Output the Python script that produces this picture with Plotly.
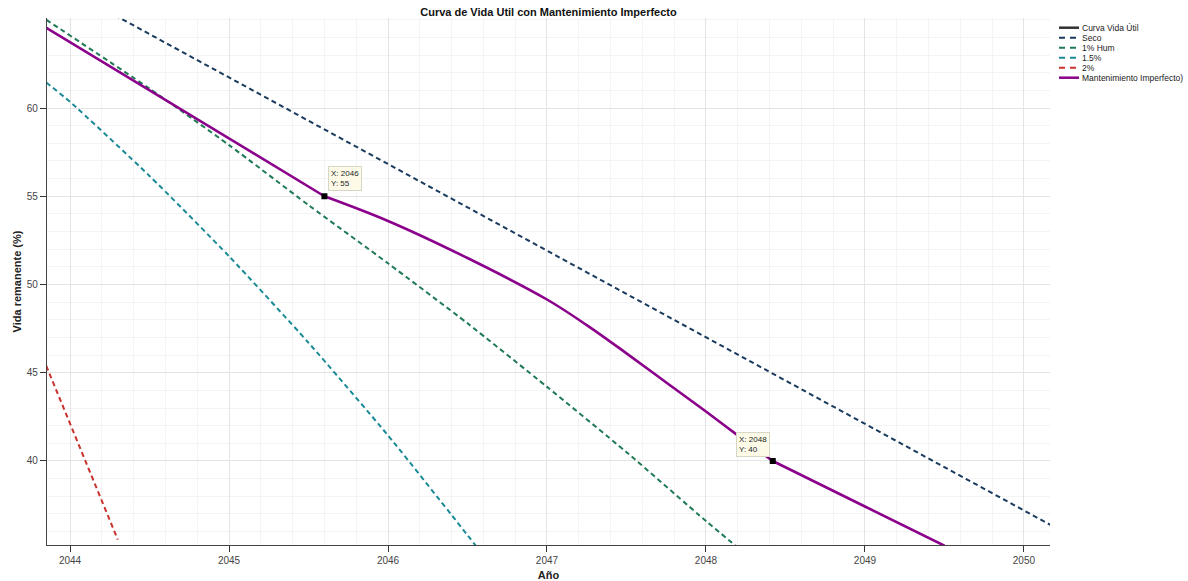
import plotly.graph_objects as go

# ---------------- data ----------------
seco_x = [2044.0, 2045.0, 2046.0, 2047.0, 2048.0, 2049.0, 2050.0, 2051.0]
seco_y = [66.64, 61.73, 56.82, 51.92, 47.01, 42.10, 37.19, 32.29]

hum1_x = [2043.85, 2044.5, 2045.0, 2045.5, 2046.0, 2046.5, 2047.0, 2047.5, 2048.0, 2048.2]
hum1_y = [65.0, 61.1, 57.9, 54.5, 51.2, 47.8, 44.2, 40.5, 36.6, 35.1]

p15_x = [2043.85, 2044.0, 2044.5, 2045.0, 2045.5, 2046.0, 2046.5, 2046.6]
p15_y = [61.45, 60.35, 56.15, 51.6, 46.7, 41.45, 35.8, 34.65]

p2_x = [2043.85, 2044.0, 2044.3]
p2_y = [45.4, 42.15, 35.55]

# Mantenimiento imperfecto: straight decline, then a smooth curved stretch, then straight again
mant1_x = [2043.85, 2045.6]
mant1_y = [64.55, 55.0]
mant2_x = [2045.6, 2046.0, 2046.5, 2047.0, 2047.25, 2047.5, 2047.75, 2048.0, 2048.2, 2048.42]
mant2_y = [55.0, 53.6, 51.5, 49.15, 47.7, 46.1, 44.45, 42.8, 41.45, 40.0]
mant3_x = [2048.42, 2049.0, 2049.5]
mant3_y = [40.0, 37.42, 35.2]

tip_x = [2045.6, 2048.42]
tip_y = [55.0, 40.0]
tip_labels = ["X: 2046<br>Y: 55", "X: 2048<br>Y: 40"]

legend_names = ["Curva Vida Útil", "Seco", "1% Hum", "1.5%", "2%", "Mantenimiento Imperfecto)"]

x_range = [2043.855, 2050.164]
y_range = [35.24, 65.10]

# ---------------- styles ----------------
C_BASE = "#333333"
C_SECO = "#1a3b5e"
C_HUM = "#1f7a55"
C_P15 = "#1b8a96"
C_P2 = "#c8312c"
C_MANT = "#8B008B"
DASH = "5px,3.5px"
FONT = "Liberation Sans, Arial, Helvetica, sans-serif"

fig = go.Figure()

fig.add_trace(go.Scatter(x=[None], y=[None], mode="lines", name=legend_names[0],
                         line=dict(color=C_BASE, width=2.5), showlegend=False))
fig.add_trace(go.Scatter(x=seco_x, y=seco_y, mode="lines", name=legend_names[1],
                         line=dict(color=C_SECO, width=2, dash=DASH), showlegend=False))
fig.add_trace(go.Scatter(x=hum1_x, y=hum1_y, mode="lines", name=legend_names[2],
                         line=dict(color=C_HUM, width=2, dash=DASH, shape="spline", smoothing=0.6),
                         showlegend=False))
fig.add_trace(go.Scatter(x=p15_x, y=p15_y, mode="lines", name=legend_names[3],
                         line=dict(color=C_P15, width=2, dash=DASH, shape="spline", smoothing=0.6),
                         showlegend=False))
fig.add_trace(go.Scatter(x=p2_x, y=p2_y, mode="lines", name=legend_names[4],
                         line=dict(color=C_P2, width=2, dash=DASH), showlegend=False))
for mx, my in [(mant1_x, mant1_y), (mant2_x, mant2_y), (mant3_x, mant3_y)]:
    fig.add_trace(go.Scatter(x=mx, y=my, mode="lines", name=legend_names[5],
                             line=dict(color=C_MANT, width=2.6, shape="spline", smoothing=1.0),
                             showlegend=False))
fig.add_trace(go.Scatter(x=tip_x, y=tip_y, mode="markers",
                         marker=dict(symbol="square", size=6, color="black"),
                         showlegend=False, hoverinfo="skip"))

annotations = []
# data tips
annotations.append(dict(x=tip_x[0], y=tip_y[0], xref="x", yref="y", text=tip_labels[0],
                        showarrow=False, xanchor="left", yanchor="bottom", xshift=4, yshift=5,
                        align="left", font=dict(size=8, color="#222", family=FONT),
                        bgcolor="#fdfbe8", bordercolor="#d6d6c6", borderwidth=1, borderpad=2))
annotations.append(dict(x=tip_x[1], y=tip_y[1], xref="x", yref="y", text=tip_labels[1],
                        showarrow=False, xanchor="right", yanchor="bottom", xshift=-3, yshift=4,
                        align="left", font=dict(size=8, color="#222", family=FONT),
                        bgcolor="#fdfbe8", bordercolor="#d6d6c6", borderwidth=1, borderpad=2))

# manual legend (compact)
W, H = 1188, 581
L, R, T, B = 47, 138, 18, 36
pw, ph = W - L - R, H - T - B

def px2paper(px, py):
    return (px - L) / pw, (H - B - py) / ph

shapes = []
leg_colors = [C_BASE, C_SECO, C_HUM, C_P15, C_P2, C_MANT]
leg_dash = ["solid", "6px,5px", "6px,5px", "6px,5px", "6px,5px", "solid"]
leg_width = [2.5, 2, 2, 2, 2, 2.5]
for i, name in enumerate(legend_names):
    ry = 27.7 + i * 10.0
    x0, yy = px2paper(1059, ry)
    x1, _ = px2paper(1079, ry)
    shapes.append(dict(type="line", xref="paper", yref="paper", x0=x0, x1=x1, y0=yy, y1=yy,
                       line=dict(color=leg_colors[i], width=leg_width[i], dash=leg_dash[i])))
    tx, _ = px2paper(1080, ry)
    annotations.append(dict(x=tx, y=yy, xref="paper", yref="paper", text=name, showarrow=False,
                            xanchor="left", yanchor="middle",
                            font=dict(size=8.5, color="#222", family=FONT)))

fig.update_layout(
    width=W, height=H,
    margin=dict(l=L, r=R, t=T, b=B, autoexpand=False),
    paper_bgcolor="white", plot_bgcolor="white",
    font=dict(family=FONT, color="#333"),
    title=dict(text="<b>Curva de Vida Util con Mantenimiento Imperfecto</b>",
               x=0.5, xref="paper", xanchor="center",
               y=1 - 12 / H, yref="container", yanchor="middle",
               font=dict(size=11, color="#111", family=FONT)),
    showlegend=False,
    annotations=annotations,
    shapes=shapes,
)

fig.update_xaxes(
    range=x_range, autorange=False,
    tickmode="array", tickvals=[2044, 2045, 2046, 2047, 2048, 2049, 2050],
    ticktext=["2044", "2045", "2046", "2047", "2048", "2049", "2050"],
    ticks="outside", ticklen=6, tickwidth=1.2, tickcolor="#333",
    tickfont=dict(size=10, color="#444", family=FONT),
    showline=True, linecolor="#444", linewidth=1.3, mirror=False,
    showgrid=True, gridcolor="#e4e4e4", gridwidth=1,
    minor=dict(dtick=0.2, showgrid=True, gridcolor="#f4f4f4", gridwidth=1, ticks=""),
    zeroline=False,
    title=dict(text="<b>Año</b>", font=dict(size=11, color="#222", family=FONT), standoff=8),
)
fig.update_yaxes(
    range=y_range, autorange=False,
    tickmode="array", tickvals=[40, 45, 50, 55, 60],
    ticktext=["40", "45", "50", "55", "60"],
    ticks="outside", ticklen=6, tickwidth=1.2, tickcolor="#333",
    tickfont=dict(size=10, color="#444", family=FONT),
    showline=True, linecolor="#444", linewidth=1.3, mirror=False,
    showgrid=True, gridcolor="#e4e4e4", gridwidth=1,
    minor=dict(dtick=1, showgrid=True, gridcolor="#f4f4f4", gridwidth=1, ticks=""),
    zeroline=False,
    title=dict(text="<b>Vida remanente (%)</b>", font=dict(size=11, color="#222", family=FONT),
               standoff=2),
)

fig.write_html("out.html")
